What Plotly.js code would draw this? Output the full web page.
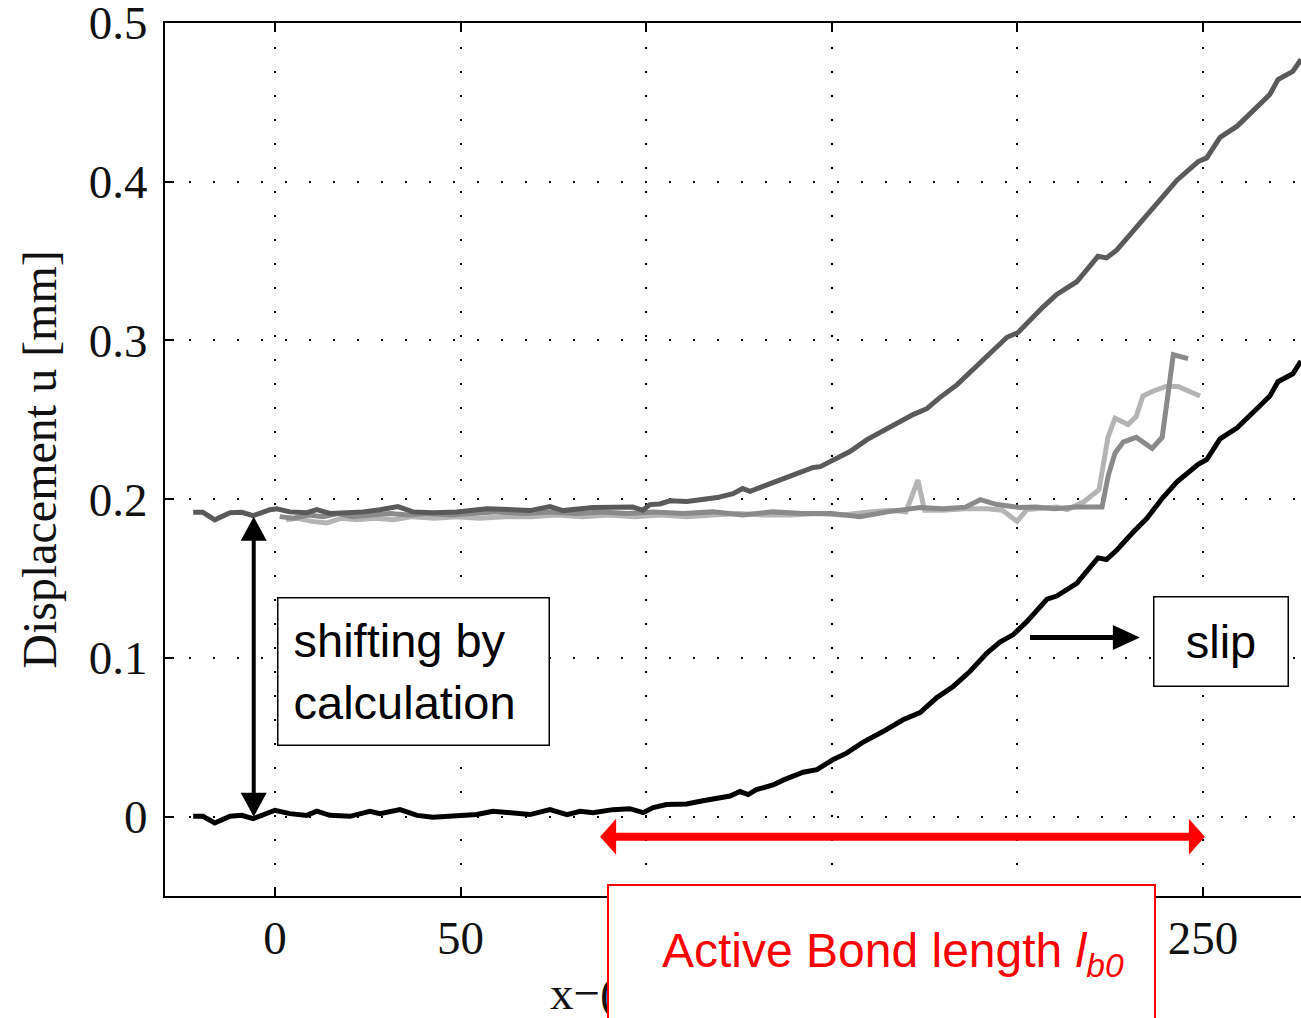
<!DOCTYPE html>
<html>
<head>
<meta charset="utf-8">
<script src="https://cdn.plot.ly/plotly-3.0.1.min.js"></script>
<style>html,body{margin:0;padding:0;background:#fff;}#chart{width:1301px;height:1018px;}</style>
</head>
<body>
<div id="chart"></div>
<script>
// Measured (upper) displacement curve, dark grey
const xMeasured = [-22,-19.4,-16.2,-12.1,-8.9,-5.9,-1.3,0.5,4,8.6,11.3,14.8,19.4,23.7,28.3,33.1,37.2,42.6,49,57.1,64.1,68.7,74.1,77.6,85.7,92.9,96.4,99.1,101,103.7,106.4,111,115.3,119.1,123.4,126,128,131.5,134.2,137.9,141.4,145,146.9,150.4,154.9,159.5,164.9,168.4,171.9,175.6,179.1,183.7,189.1,192.6,197.2,200.2,204.2,206.9,210.6,216,221.7,224,226.8,231.1,234.9,239.2,243,248.7,251,254.6,259.2,264.5,268,270.2,274.2,276.4];
const uMeasured = [0.1917,0.1917,0.187,0.1915,0.1917,0.1896,0.1934,0.194,0.192,0.1915,0.1934,0.191,0.1915,0.192,0.1934,0.1953,0.192,0.1915,0.192,0.194,0.1934,0.1928,0.1953,0.1928,0.1947,0.1953,0.195,0.193,0.1966,0.197,0.199,0.1985,0.200,0.201,0.2035,0.2067,0.205,0.208,0.2105,0.214,0.2167,0.220,0.2205,0.225,0.230,0.2375,0.2445,0.249,0.2533,0.257,0.264,0.272,0.2836,0.292,0.302,0.305,0.315,0.321,0.329,0.337,0.353,0.352,0.357,0.3686,0.378,0.3907,0.401,0.4127,0.415,0.428,0.435,0.447,0.455,0.4644,0.4695,0.477];

// Shifted curve (black)
const xShifted = [-22,-19.4,-16.2,-12.1,-8.9,-5.9,0,4,8.6,11.3,14.8,20.2,25.6,28.3,33.7,38.3,42.6,49,54.4,58.7,64.1,68.7,74.1,78.7,82.2,85.7,91,95.6,99.2,101.9,105.5,110.9,115.3,122.6,125.3,127.5,129.7,134.2,136.9,142.3,146,150.4,154,158.5,163.8,169.2,173.8,178.3,182.7,187.2,191.8,195.3,198.9,202.6,208,210.6,216,221.7,224,226.8,231.1,234.9,239.2,243,248.7,251,254.6,259.2,264.5,268,270.2,274.2,276.4];
const uShifted = [0.0002,0.0002,-0.004,0.0002,0.0008,-0.0013,0.004,0.0019,0.0008,0.0034,0.0008,0.0002,0.0034,0.0019,0.0044,0.0008,-0.0004,0.0002,0.0013,0.0034,0.0019,0.0013,0.0044,0.0013,0.0034,0.0025,0.0044,0.005,0.0025,0.0057,0.0076,0.008,0.010,0.013,0.0158,0.0139,0.017,0.020,0.023,0.028,0.0296,0.036,0.040,0.047,0.0536,0.061,0.0655,0.075,0.082,0.0914,0.103,0.110,0.1147,0.123,0.137,0.139,0.147,0.163,0.162,0.168,0.179,0.188,0.201,0.211,0.222,0.225,0.238,0.245,0.257,0.265,0.274,0.279,0.287];

// Second grey curve (medium grey)
const xGrey2 = [1.3,5,9,13,17,21,26,31,36,41,47,53,60,67,74,81,88,95,102,110,118,126,134,142,150,157.6,165,173.8,180,186,190,194.5,200.7,205,210,216,222.8,224.5,226.3,228.5,232,236.3,239,242,244.6,246];
const uGrey2 = [0.189,0.188,0.190,0.189,0.191,0.189,0.190,0.191,0.190,0.191,0.190,0.191,0.192,0.191,0.192,0.191,0.192,0.191,0.192,0.191,0.192,0.190,0.192,0.191,0.191,0.189,0.192,0.1947,0.194,0.195,0.1997,0.1966,0.1947,0.195,0.194,0.195,0.195,0.215,0.229,0.236,0.239,0.232,0.239,0.291,0.289,0.2886];

// Third grey curve (light grey)
const xGrey3 = [3,6,10,14,18,22,27,32,37,43,49,55,62,69,76,83,90,97,104,111,118,125,132,139,146,153,160,166,170,173.2,175,180,186,192,196,199.9,202.6,206.9,210.6,213.4,218,222,224.4,226.3,229.8,232,233.8,236.5,240,243.3,249.2];
const uGrey3 = [0.187,0.188,0.186,0.185,0.188,0.187,0.188,0.187,0.189,0.188,0.189,0.188,0.189,0.189,0.190,0.189,0.190,0.189,0.190,0.189,0.190,0.191,0.190,0.190,0.191,0.190,0.192,0.193,0.192,0.212,0.193,0.193,0.194,0.194,0.193,0.186,0.1935,0.1947,0.195,0.1934,0.1985,0.206,0.239,0.251,0.247,0.252,0.265,0.268,0.271,0.271,0.265];

// visible x tick labels (100-200 are covered by the red box in the reference)
const xTickVals = [0,50,250];
const xTickText = ['0','50','250'];
const xHiddenTickVals = [100,150,200];
const yTickVals = [0,0.1,0.2,0.3,0.4,0.5];
const yTickText = ['0','0.1','0.2','0.3','0.4','0.5'];

// annotation arrow end points (data units)
const shiftArrow = {x: -5.7, y0: 0.0, y1: 0.189};
const slipArrow = {y: 0.1128, x0: 203.4, x1: 233.0};
const bondArrow = {y: -0.0126, x0: 87.6, x1: 250.5};

const serif = 'Liberation Serif, Times New Roman, serif';
const sans = 'Liberation Sans, Arial, sans-serif';

const traces = [
  {x: xGrey3, y: uGrey3, mode: 'lines', line: {color: '#b4b4b4', width: 5}, hoverinfo: 'skip'},
  {x: xGrey2, y: uGrey2, mode: 'lines', line: {color: '#8a8a8a', width: 5}, hoverinfo: 'skip'},
  {x: xMeasured, y: uMeasured, mode: 'lines', line: {color: '#5a5a5a', width: 5}, hoverinfo: 'skip'},
  {x: xShifted, y: uShifted, mode: 'lines', line: {color: '#000000', width: 5}, hoverinfo: 'skip'}
];

// pixel -> data scale helpers for arrowhead sizes
const pxX = (276.4 + 29.6) / 1136;
const pxY = 0.55 / 873;

function headPath(tipX, tipY, dir, len, halfW) {
  let p;
  if (dir === 'down') p = [[tipX, tipY], [tipX - halfW * pxX, tipY + len * pxY], [tipX + halfW * pxX, tipY + len * pxY]];
  if (dir === 'up') p = [[tipX, tipY], [tipX - halfW * pxX, tipY - len * pxY], [tipX + halfW * pxX, tipY - len * pxY]];
  if (dir === 'right') p = [[tipX, tipY], [tipX - len * pxX, tipY + halfW * pxY], [tipX - len * pxX, tipY - halfW * pxY]];
  if (dir === 'left') p = [[tipX, tipY], [tipX + len * pxX, tipY + halfW * pxY], [tipX + len * pxX, tipY - halfW * pxY]];
  return 'M ' + p.map(q => q[0] + ',' + q[1]).join(' L ') + ' Z';
}

const shapes = [
  // vertical shift double arrow
  {type: 'line', xref: 'x', yref: 'y', x0: shiftArrow.x, x1: shiftArrow.x, y0: shiftArrow.y0 + 20 * pxY, y1: shiftArrow.y1 - 20 * pxY, line: {color: '#000', width: 4}},
  {type: 'path', xref: 'x', yref: 'y', path: headPath(shiftArrow.x, shiftArrow.y0, 'down', 24, 13), fillcolor: '#000', line: {width: 0}},
  {type: 'path', xref: 'x', yref: 'y', path: headPath(shiftArrow.x, shiftArrow.y1, 'up', 24, 13), fillcolor: '#000', line: {width: 0}},
  // slip arrow
  {type: 'line', xref: 'x', yref: 'y', x0: slipArrow.x0, x1: slipArrow.x1 - 24 * pxX, y0: slipArrow.y, y1: slipArrow.y, line: {color: '#000', width: 5}},
  {type: 'path', xref: 'x', yref: 'y', path: headPath(slipArrow.x1, slipArrow.y, 'right', 27, 12.5), fillcolor: '#000', line: {width: 0}},
  // red bond length double arrow
  {type: 'line', xref: 'x', yref: 'y', x0: bondArrow.x0 + 12 * pxX, x1: bondArrow.x1 - 12 * pxX, y0: bondArrow.y, y1: bondArrow.y, line: {color: '#ff0000', width: 8}},
  {type: 'path', xref: 'x', yref: 'y', path: headPath(bondArrow.x0, bondArrow.y, 'left', 16, 18), fillcolor: '#ff0000', line: {width: 0}},
  {type: 'path', xref: 'x', yref: 'y', path: headPath(bondArrow.x1, bondArrow.y, 'right', 16, 18), fillcolor: '#ff0000', line: {width: 0}}
];

const layout = {
  width: 1301, height: 1018,
  margin: {l: 165, r: 0, t: 23, b: 122},
  paper_bgcolor: '#ffffff', plot_bgcolor: '#ffffff',
  showlegend: false,
  xaxis: {
    range: [-29.6, 276.4], tickmode: 'array', tickvals: xTickVals, ticktext: xTickText,
    showgrid: true, gridcolor: '#000', gridwidth: 2, griddash: '2px,22px',
    minor: {tickmode: 'array', tickvals: xHiddenTickVals, ticks: 'inside', ticklen: 9, tickwidth: 2, tickcolor: '#000',
            showgrid: true, gridcolor: '#000', gridwidth: 2, griddash: '2px,22px'},
    zeroline: false, showline: true, linecolor: '#000', linewidth: 2, mirror: 'ticks',
    ticks: 'inside', ticklen: 9, tickwidth: 2, tickcolor: '#000',
    tickfont: {family: serif, size: 47, color: '#111'}, ticklabelstandoff: 0
  },
  yaxis: {
    range: [-0.05, 0.5], tickmode: 'array', tickvals: yTickVals, ticktext: yTickText,
    showgrid: true, gridcolor: '#000', gridwidth: 2, griddash: '2px,22px',
    zeroline: false, showline: true, linecolor: '#000', linewidth: 2,
    ticks: 'inside', ticklen: 9, tickwidth: 2, tickcolor: '#000', ticklabeloverflow: 'allow',
    tickfont: {family: serif, size: 47, color: '#111'}, ticklabelstandoff: 6,
    title: {text: 'Displacement u [mm]', font: {family: serif, size: 48, color: '#111'}, standoff: 17}
  },
  shapes: shapes,
  annotations: [
    // shifting by calculation box
    {xref: 'x', yref: 'y', x: 0.54, y: 0.1386, xanchor: 'left', yanchor: 'top',
     text: 'shifting by<br>calculation', showarrow: false, align: 'left', valign: 'middle',
     width: 240, height: 116, borderpad: 15, bordercolor: '#000', borderwidth: 1.5, bgcolor: '#ffffff',
     font: {family: sans, size: 47, color: '#000'}},
    // slip box
    {xref: 'x', yref: 'y', x: 254.98, y: 0.1103, xanchor: 'center', yanchor: 'middle',
     text: 'slip', showarrow: false, align: 'center', valign: 'middle',
     width: 103, height: 58, borderpad: 15, bordercolor: '#000', borderwidth: 1.5, bgcolor: '#ffffff',
     font: {family: sans, size: 47, color: '#000'}},
    // x axis title fragment visible
    {xref: 'paper', yref: 'paper', x: 0.337, y: -0.111, xanchor: 'left', yanchor: 'middle',
     text: 'x\u2212(', showarrow: false, font: {family: serif, size: 47, color: '#111'}},
    // red box
    {xref: 'paper', yref: 'paper', x: 0.6307, y: 0.01375, xanchor: 'center', yanchor: 'top',
     text: '\u00a0\u2009Active Bond length <i>l<sub>b0</sub></i>', showarrow: false, align: 'center', valign: 'middle',
     width: 545, height: 136, borderpad: 0, bordercolor: '#ff0000', borderwidth: 2, bgcolor: '#ffffff',
     font: {family: sans, size: 48, color: '#ff0000'}}
  ]
};

Plotly.newPlot('chart', traces, layout, {displayModeBar: false, staticPlot: true});
</script>
</body>
</html>
